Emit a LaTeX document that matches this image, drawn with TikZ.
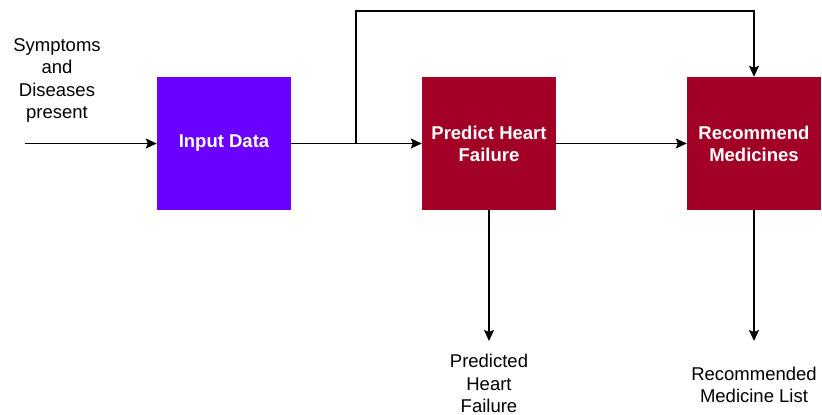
\documentclass[tikz,border=0pt]{standalone}
\usepackage{fontspec}
\setmainfont{Liberation Sans}
\usetikzlibrary{arrows.meta}
\definecolor{inpurple}{HTML}{6A00FF}
\definecolor{boxred}{HTML}{A20025}
\begin{document}
\begin{tikzpicture}[x=1pt,y=-1pt,
  box/.style={minimum width=134pt,minimum height=133pt,inner sep=0pt,align=center,
    text=white,font=\fontsize{18.5}{22}\selectfont\bfseries},
  lbl/.style={align=center,inner sep=0pt,font=\fontsize{18.5}{22.5}\selectfont},
  arr/.style={line width=1.4pt,-{Stealth[length=11pt,width=10pt,inset=2pt]}},
  ln/.style={line width=1.4pt}]
\useasboundingbox (0,0) rectangle (822,415);
\node[box,fill=inpurple] (in) at (224,143.5) {Input Data};
\node[box,fill=boxred] (pred) at (489,143.5) {Predict Heart\\Failure};
\node[box,fill=boxred] (rec) at (754,143.5) {Recommend\\Medicines};
\node[lbl] (sym) at (57,80.5) {Symptoms\\and\\Diseases\\present};
\node[lbl] (plab) at (489,383.5) {Predicted\\Heart\\Failure};
\node[lbl] (rlab) at (754,385) {Recommended\\Medicine List};
\coordinate (start) at (25,143.5);
\coordinate (j) at (356,143.5);
\coordinate (t) at (356,11);
\coordinate (pe) at (489,341);
\coordinate (re) at (754,341);
\draw[arr] (start) -- (in.west);
\draw[arr] (in.east) -- (pred.west);
\draw[arr] (pred.east) -- (rec.west);
\draw[arr] (j) -- (t) -| (rec.north);
\draw[arr] (pred.south) -- (pe);
\draw[arr] (rec.south) -- (re);
\end{tikzpicture}
\end{document}
